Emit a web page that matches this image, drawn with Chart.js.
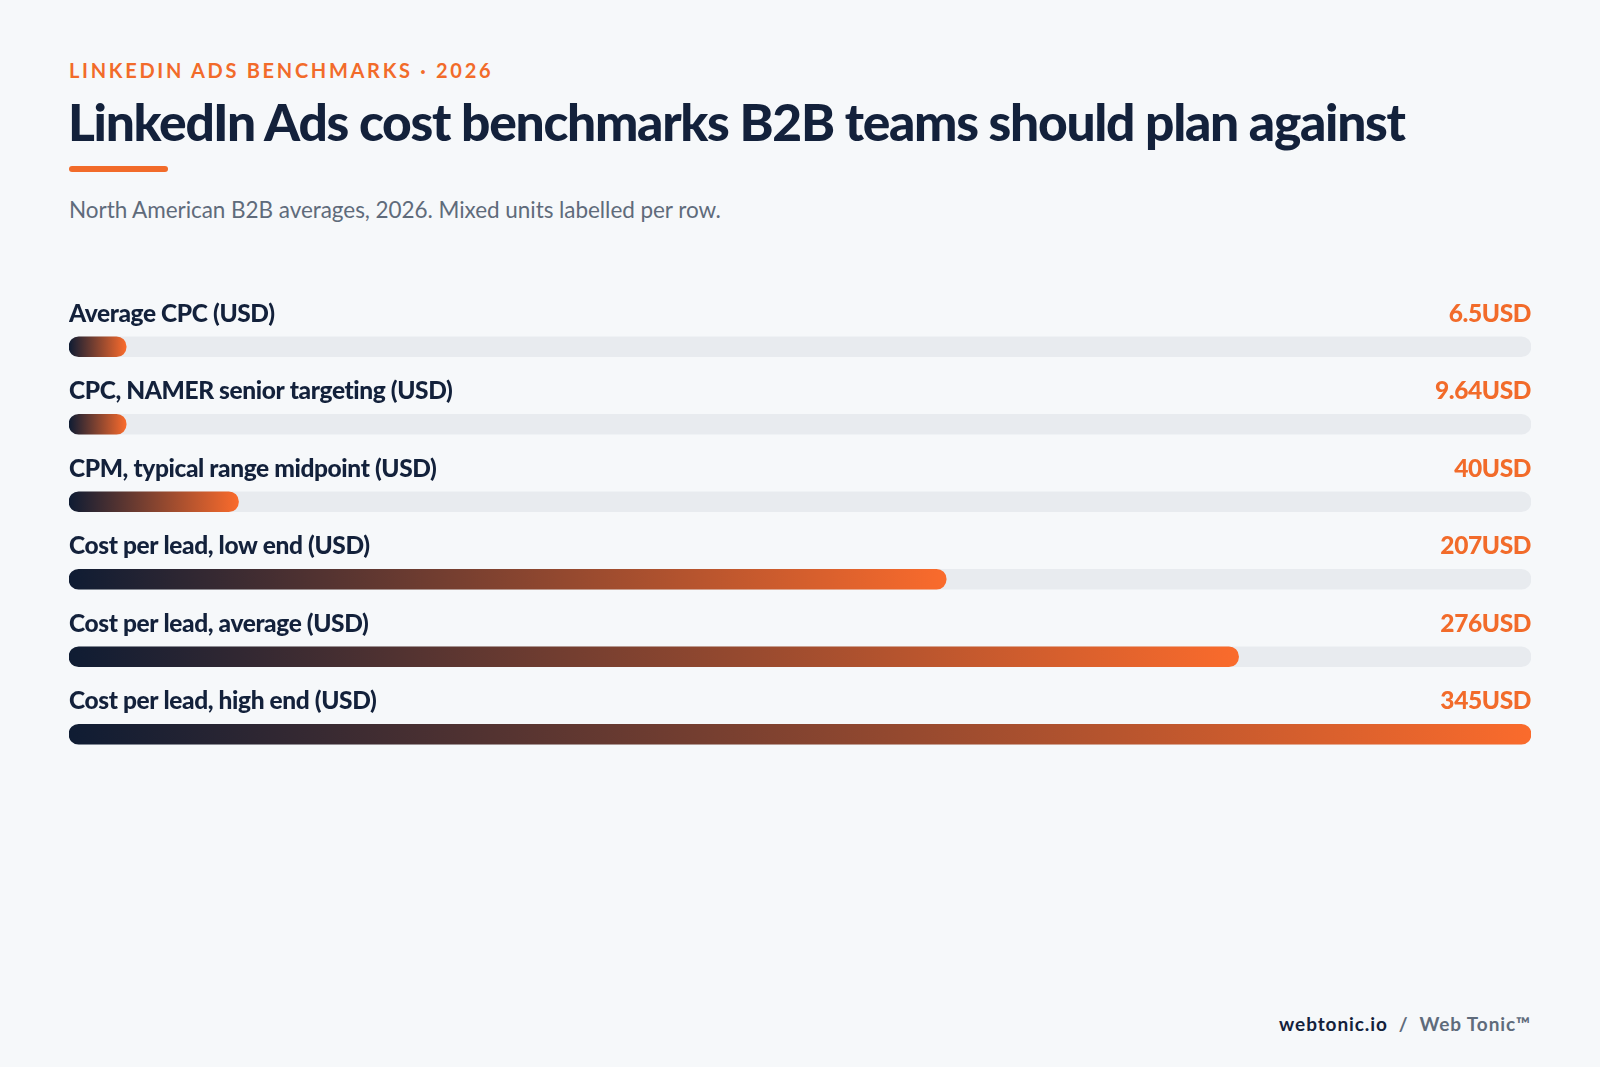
<!DOCTYPE html>
<html><head><meta charset="utf-8">
<script src="https://cdn.jsdelivr.net/npm/chart.js@4"></script>
<style>
body{margin:0;width:1600px;height:1067px;background:#f6f8fa;font-family:Lato,sans-serif;position:relative;overflow:hidden}
.eb{position:absolute;left:69px;top:58px;color:#f26b2a;font-weight:700;font-size:20px;letter-spacing:2.7px}
.tt{position:absolute;left:68px;top:90px;color:#13213b;font-weight:900;font-size:51.5px;letter-spacing:-1.3px}
.ln{position:absolute;left:69px;top:166px;width:99px;height:6px;border-radius:3px;background:#f26b2a}
.st{position:absolute;left:69px;top:196px;color:#5f6b7b;font-size:22.5px;letter-spacing:-0.05px}
.ft{position:absolute;right:69px;top:1012px;font-size:19px;font-weight:700;letter-spacing:0.9px;color:#13213b}
.ft span{color:#5f6b7b}
#c{position:absolute;left:69px;top:260px}
</style></head><body>
<div class="eb">LINKEDIN ADS BENCHMARKS · 2026</div>
<div class="tt">LinkedIn Ads cost benchmarks B2B teams should plan against</div>
<div class="ln"></div>
<div class="st">North American B2B averages, 2026. Mixed units labelled per row.</div>
<div class="ft">webtonic.io &nbsp;<span>/ &nbsp;Web Tonic™</span></div>
<canvas id="c" width="1462" height="513"></canvas>
<script>
const categories=["Average CPC (USD)","CPC, NAMER senior targeting (USD)","CPM, typical range midpoint (USD)","Cost per lead, low end (USD)","Cost per lead, average (USD)","Cost per lead, high end (USD)"];
const values=[6.5,9.64,40,207,276,345];
const valueLabels=["6.5USD","9.64USD","40USD","207USD","276USD","345USD"];
const axisMax=345;
const minShown=13.5;
const shown=values.map(v=>Math.max(v,minShown));
const labelPlugin={id:'lbl',afterDatasetsDraw(chart){
  const ctx=chart.ctx,y=chart.scales.y,a=chart.chartArea;
  ctx.save();ctx.font='900 24.5px Lato';ctx.textBaseline='middle';
  if('letterSpacing' in ctx) ctx.letterSpacing='-0.4px';
  categories.forEach((c,i)=>{const py=y.getPixelForValue(i)-33;
    ctx.fillStyle='#13213b';ctx.textAlign='left';ctx.fillText(c,a.left,py);
    ctx.fillStyle='#f26b2a';ctx.textAlign='right';ctx.fillText(valueLabels[i],a.right,py);});
  ctx.restore();}};
new Chart(document.getElementById('c'),{type:'bar',
 data:{labels:categories,datasets:[
  {data:shown,grouped:false,barThickness:20,borderRadius:10,borderSkipped:false,
   backgroundColor:(cx)=>{const ch=cx.chart;if(!ch.chartArea)return '#f26b2a';const x=ch.scales.x;
     const g=ch.ctx.createLinearGradient(x.getPixelForValue(0),0,x.getPixelForValue(shown[cx.dataIndex]),0);
     g.addColorStop(0,'#0f1c33');g.addColorStop(1,'#fa6b2c');return g;}},
  {data:categories.map(()=>axisMax),grouped:false,barThickness:20,borderRadius:10,borderSkipped:false,backgroundColor:'#e8ebef'}]},
 options:{indexAxis:'y',responsive:false,animation:false,layout:{padding:{top:48,left:0,right:0,bottom:0}},
  plugins:{legend:{display:false},tooltip:{enabled:false}},
  scales:{x:{display:false,min:0,max:axisMax},y:{display:false}}},
 plugins:[labelPlugin]});
</script></body></html>
